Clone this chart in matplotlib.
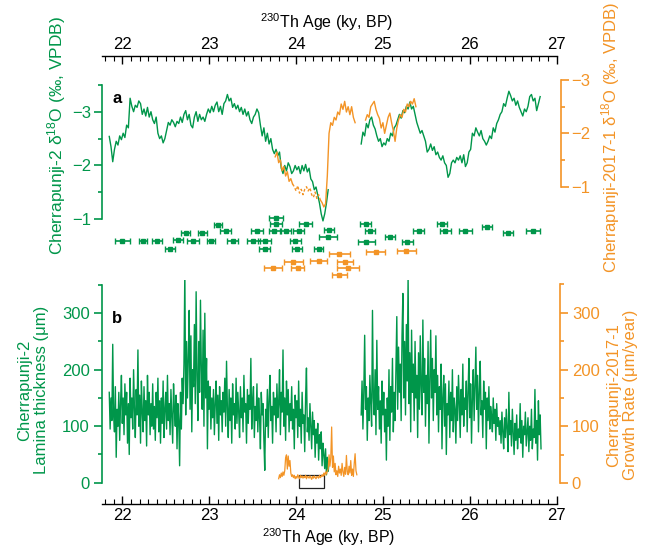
import numpy as np
import matplotlib
matplotlib.use('Agg')
import matplotlib.pyplot as plt
from matplotlib.patches import Rectangle
from matplotlib.ticker import MultipleLocator, FixedLocator

plt.rcParams['font.family'] = ['Liberation Sans', 'DejaVu Sans']
plt.rcParams['mathtext.fontset'] = 'custom'
plt.rcParams['mathtext.rm'] = 'Liberation Sans'
plt.rcParams['mathtext.it'] = 'Liberation Sans:italic'
plt.rcParams['mathtext.bf'] = 'Liberation Sans:bold'

GREEN = '#00964A'
ORANGE = '#F39426'

# ---------------- data ----------------
# Panel a: Cherrapunji-2 d18O (green), two segments
ga1_range = (21.85, 24.37)
ga1 = [-2.54, -2.35, -2.07, -2.3, -2.45, -2.38, -2.55, -2.48, -2.6, -2.52,
       -2.75, -2.7, -3.25, -3.1, -3.0, -3.12, -3.08, -3.2, -3.15, -2.95,
       -3.05, -2.92, -3.08, -2.9, -3.0, -2.85, -2.78, -2.9, -2.6, -2.5,
       -2.55, -2.42, -2.5, -2.65, -2.8, -2.75, -2.85, -2.8, -2.72, -2.82,
       -2.78, -2.9, -2.8, -2.95, -3.02, -2.85, -2.95, -2.75, -2.7, -2.9,
       -3.0, -2.82, -2.95, -2.85, -2.9, -2.82, -2.95, -3.05, -2.98, -3.1,
       -3.0, -3.12, -3.18, -3.0, -3.1, -2.95, -3.15, -3.2, -3.32, -3.2,
       -3.25, -3.08, -3.15, -3.05, -3.12, -3.0, -3.08, -2.95, -3.05, -2.92,
       -3.0, -2.85, -2.78, -2.9, -2.95, -3.05, -2.98, -2.75, -2.55, -2.7,
       -2.45, -2.6, -2.4, -2.5, -2.3, -2.22, -2.3, -2.18, -2.25, -1.95,
       -1.85, -2.0, -1.9, -2.05, -1.98, -1.85, -1.9, -2.0, -1.92, -1.98,
       -1.85, -2.0, -1.9, -2.02, -1.88, -1.95, -1.75, -1.7, -1.55, -1.6,
       -1.45, -1.3, -1.1, -0.97, -1.1, -1.3, -1.55]
ga2_range = (24.75, 26.81)
ga2 = [-2.4, -2.62, -2.55, -2.78, -2.7, -2.85, -2.9, -2.75, -2.68, -2.55,
       -2.45, -2.5, -2.35, -2.42, -2.38, -2.5, -2.45, -2.6, -2.55, -2.7,
       -2.75, -2.85, -2.95, -2.88, -3.02, -2.98, -3.1, -3.05, -3.18, -3.05,
       -3.1, -2.95, -2.8, -2.7, -2.6, -2.65, -2.55, -2.45, -2.25, -2.3,
       -2.4, -2.28, -2.35, -2.2, -2.25, -2.15, -2.1, -2.18, -2.05, -2.0,
       -1.78, -1.85, -2.05, -2.1, -2.05, -2.15, -2.1, -2.18, -2.05, -2.2,
       -1.98, -2.05, -2.25, -2.3, -2.6, -2.55, -2.7, -2.62, -2.55, -2.65,
       -2.5, -2.45, -2.38, -2.45, -2.55, -2.5, -2.7, -2.62, -2.78, -2.85,
       -2.95, -3.0, -3.15, -3.1, -3.25, -3.38, -3.3, -3.2, -3.25, -3.12,
       -3.2, -3.08, -3.0, -2.92, -3.05, -3.0, -3.1, -3.28, -3.32, -3.2,
       -3.25, -3.02, -3.15, -3.28]

# Panel a: Cherrapunji-2017-1 d18O (orange)
oa1_range = (23.76, 23.96)
oa1 = [-1.56, -1.65, -1.45, -1.5, -1.3, -1.38, -1.2, -1.28, -1.1, -1.15, -1.05]
oad_range = (23.96, 24.28)
oad = [-1.05, -1.0, -0.92, -1.02, -0.88, -0.95, -0.85, -0.95, -1.0, -0.92,
       -0.98, -0.85, -0.8, -0.9, -0.78, -0.85, -0.75]
oa2_range = (24.28, 24.68)
oa2 = [-0.75, -0.7, -0.62, -0.68, -1.2, -2.0, -2.2, -2.15, -2.3, -2.25,
       -2.4, -2.35, -2.55, -2.45, -2.6, -2.4, -2.5, -2.35, -2.5, -2.3, -2.2]
oa3_range = (24.80, 25.38)
oa3 = [-2.25, -2.35, -2.3, -2.5, -2.55, -2.6, -2.45, -2.35, -2.28, -2.1,
       -2.2, -2.0, -2.15, -2.3, -2.38, -2.2, -2.05, -1.85, -2.1, -2.25,
       -2.35, -2.3, -2.45, -2.4, -2.55, -2.5, -2.6, -2.55, -2.65, -2.5]

# 230Th dates (age, 2-sigma error) with display row
g_age = [23.77, 23.77, 24.11, 24.80, 25.68, 26.20, 23.10, 24.38, 23.19, 23.55,
         23.75, 23.88, 24.03, 24.85, 25.41, 25.72, 25.95, 26.73, 22.73, 22.92,
         26.44, 24.37, 25.08, 22.00, 22.24, 22.40, 22.81, 23.02, 23.27, 23.51,
         23.64, 23.99, 22.64, 24.81, 25.28, 22.55, 23.64, 24.01, 24.26]
g_err = [0.077, 0.073, 0.071, 0.058, 0.063, 0.059, 0.048, 0.054, 0.061, 0.069,
         0.065, 0.058, 0.065, 0.058, 0.063, 0.063, 0.071, 0.084, 0.052, 0.054,
         0.063, 0.10, 0.058, 0.088, 0.050, 0.060, 0.069, 0.048, 0.061, 0.075,
         0.073, 0.065, 0.054, 0.094, 0.065, 0.054, 0.061, 0.060, 0.056]
g_row = [7.7, 14, 14, 14, 14, 17.3, 15, 19.7, 21, 21,
         21, 21, 21, 21, 21, 21, 21, 21, 22.7, 22.7,
         22.7, 26.7, 26.7, 30.7, 30.7, 30.7, 30.7, 30.7, 30.7, 30.7,
         30.7, 30.7, 29.7, 32.3, 32.3, 39.3, 39.3, 39.3, 39.3]
o_age = [24.50, 24.92, 25.27, 23.97, 24.26, 24.56, 23.73, 24.02, 24.60, 24.50]
o_err = [0.119, 0.109, 0.109, 0.109, 0.10, 0.09, 0.104, 0.075, 0.125, 0.081]
o_row = [43.7, 41.7, 41.3, 52, 51, 52.3, 58.3, 58, 58.3, 65]

# Panel b: Cherrapunji-2 lamina thickness (um)
gb1_range = (21.85, 24.38)
gb1 = [160, 95, 150, 110, 245, 120, 90, 170, 45, 130,
       100, 160, 75, 140, 190, 105, 150, 85, 175, 120,
       160, 70, 140, 50, 185, 115, 150, 95, 200, 130,
       80, 165, 120, 235, 100, 155, 70, 180, 125, 90,
       170, 110, 145, 65, 190, 120, 160, 85, 140, 100,
       175, 95, 135, 75, 160, 115, 185, 90, 145, 70,
       150, 105, 180, 80, 130, 160, 95, 190, 110, 140,
       85, 165, 120, 70, 175, 130, 100, 155, 60, 140,
       110, 30, 160, 95, 185, 140, 210, 375, 120, 250,
       150, 220, 305, 130, 260, 90, 200, 170, 280, 140,
       338, 190, 110, 250, 160, 323, 200, 130, 270, 100,
       300, 150, 220, 60, 180, 130, 170, 95, 150, 115,
       165, 85, 140, 180, 105, 155, 75, 170, 120, 145,
       90, 160, 125, 185, 100, 215, 130, 80, 165, 110,
       150, 70, 175, 120, 140, 95, 185, 105, 160, 125,
       80, 170, 115, 150, 90, 190, 125, 140, 70, 165,
       105, 155, 130, 220, 95, 145, 170, 80, 135, 110,
       175, 90, 150, 115, 60, 160, 120, 140, 75, 22,
       130, 100, 165, 80, 145, 190, 110, 135, 70, 160,
       120, 150, 90, 175, 115, 140, 200, 85, 160, 125,
       235, 100, 150, 75, 180, 120, 165, 90, 140, 110,
       170, 95, 130, 60, 155, 115, 145, 80, 180, 100,
       130, 70, 160, 105, 120, 55, 150, 203, 90, 115,
       75, 140, 100, 60, 125, 85, 110, 45, 95, 70,
       105, 40, 85, 60, 90, 30, 70, 50, 25, 60,
       14, 45, 20, 35]
gb2_range = (24.75, 26.82)
gb2 = [120, 180, 95, 160, 261, 130, 170, 75, 150, 110,
       190, 140, 100, 305, 150, 120, 200, 85, 252, 130,
       170, 95, 145, 70, 180, 120, 160, 90, 130, 40,
       150, 100, 200, 75, 170, 125, 220, 90, 160, 110,
       200, 294, 130, 240, 160, 210, 110, 260, 335, 150,
       250, 120, 280, 180, 368, 140, 230, 90, 270, 160,
       210, 110, 250, 150, 190, 80, 230, 130, 260, 170,
       120, 288, 160, 220, 100, 190, 140, 250, 70, 180,
       270, 150, 220, 110, 200, 160, 260, 120, 190, 90,
       170, 130, 210, 60, 150, 190, 100, 175, 50, 140,
       120, 180, 80, 160, 110, 200, 90, 150, 130, 70,
       170, 110, 190, 140, 80, 165, 120, 210, 100, 150,
       130, 180, 90, 160, 220, 115, 175, 70, 150, 200,
       110, 170, 240, 130, 190, 90, 160, 215, 120, 145,
       80, 180, 130, 160, 60, 150, 110, 170, 95, 135,
       120, 90, 150, 105, 130, 75, 140, 100, 115, 85,
       110, 70, 125, 90, 60, 115, 80, 130, 95, 55,
       160, 85, 110, 65, 130, 90, 50, 105, 75, 120,
       60, 95, 80, 140, 70, 110, 45, 100, 85, 125,
       65, 90, 115, 55, 100, 75, 130, 60, 95, 80,
       165, 70, 110, 40, 145, 85, 120, 60]

# Panel b: Cherrapunji-2017-1 growth rate (um/year)
ob_range = (23.80, 24.70)
ob = [8, 15, 10, 18, 12, 20, 14, 22, 45, 50,
      25, 48, 30, 40, 18, 12, 15, 10, 14, 8,
      12, 9, 15, 11, 8, 14, 10, 13, 9, 12,
      10, 14, 8, 12, 11, 9, 13, 10, 7, 12,
      9, 13, 10, 8, 12, 11, 9, 14, 10, 12,
      15, 12, 18, 14, 20, 16, 22, 25, 50, 30,
      45, 99, 28, 48, 20, 35, 15, 22, 12, 30,
      18, 25, 14, 35, 20, 12, 28, 16, 49, 20,
      15, 30, 18, 40, 14, 25, 12, 35, 52, 22,
      15]

# highlighted interval (age range, value range) in panel b
box_age = (24.03, 24.32)
box_val = (-9, 15)

x_ticks = [22, 23, 24, 25, 26, 27]


def ages(rng, vals):
    return np.linspace(rng[0], rng[1], len(vals))


# ---------------- layout ----------------
W, H = 651, 548
fig = plt.figure(figsize=(W / 100, H / 100), dpi=100)


def box(x0, y0, x1, y1):
    return [x0 / W, 1 - y1 / H, (x1 - x0) / W, (y1 - y0) / H]


XL = (21.763, 27.004)
XL_PX = (101.7, 557)

# Background axes holding the bottom and top age axes
ax0 = fig.add_axes(box(XL_PX[0], 56, XL_PX[1], 504))
ax0.set_facecolor('none')
ax0.set_xlim(*XL)
ax0.set_ylim(0, 1)
for s in ['left', 'right']:
    ax0.spines[s].set_visible(False)
for s in ['top', 'bottom']:
    ax0.spines[s].set_linewidth(1.0)
ax0.set_yticks([])
ax0.xaxis.set_major_locator(FixedLocator(x_ticks))
ax0.xaxis.set_minor_locator(MultipleLocator(0.1))
ax0.tick_params(axis='x', which='both', direction='in', top=True, bottom=True,
                labeltop=True, labelbottom=True)
ax0.tick_params(axis='x', which='major', length=5.5, width=1.0, labelsize=12, pad=3)
ax0.tick_params(axis='x', which='minor', length=3.5, width=0.8)
ax0.tick_params(axis='x', which='major', labeltop=True)
for lab in ax0.xaxis.get_ticklabels(which='major'):
    pass
ax0.xaxis.set_tick_params(which='major', pad=3)
fig.text(327 / W, 1 - 22 / H, r'$^{230}$Th Age (ky, BP)', ha='center', va='center', fontsize=11.5)
fig.text(329 / W, 1 - 537 / H, r'$^{230}$Th Age (ky, BP)', ha='center', va='center', fontsize=11.5)

# ---- panel a ----
axa = fig.add_axes(box(XL_PX[0], 75, XL_PX[1], 230))
axa.set_facecolor('none')
axa.set_xlim(*XL)
axa.set_ylim(-0.801, -3.682)
for s in ['top', 'bottom', 'right']:
    axa.spines[s].set_visible(False)
axa.spines['left'].set_bounds(-3.5, -1)
axa.spines['left'].set_color(GREEN)
axa.spines['left'].set_linewidth(1.2)
axa.set_xticks([])
axa.yaxis.set_major_locator(FixedLocator([-3, -2, -1]))
axa.yaxis.set_minor_locator(FixedLocator([-3.5, -2.5, -1.5]))
axa.tick_params(axis='y', which='major', colors=GREEN, length=5.5, width=1.2, labelsize=12, pad=2)
axa.tick_params(axis='y', which='minor', colors=GREEN, length=3, width=1.2)
axa.plot(ages(ga1_range, ga1), ga1, color=GREEN, lw=1.0)
axa.plot(ages(ga2_range, ga2), ga2, color=GREEN, lw=1.0)
axa.text(21.94, -3.25, 'a', fontsize=12, fontweight='bold', ha='center', va='center')

axa2 = axa.twinx()
axa2.set_facecolor('none')
axa2.set_ylim(-0.188, -3.094)
for s in ['top', 'bottom', 'left']:
    axa2.spines[s].set_visible(False)
axa2.spines['right'].set_bounds(-3, -1)
axa2.spines['right'].set_position(('outward', 2.7))
axa2.spines['right'].set_color(ORANGE)
axa2.spines['right'].set_linewidth(1.2)
axa2.yaxis.set_major_locator(FixedLocator([-3, -2, -1]))
axa2.yaxis.set_minor_locator(FixedLocator([-2.5, -1.5]))
axa2.tick_params(axis='y', which='major', colors=ORANGE, length=5.5, width=1.2, labelsize=12, pad=2)
axa2.tick_params(axis='y', which='minor', colors=ORANGE, length=3, width=1.2)
axa2.plot(ages(oa1_range, oa1), oa1, color=ORANGE, lw=1.0)
axa2.plot(ages(oad_range, oad), oad, color=ORANGE, lw=1.0, ls=(0, (2, 1.5)))
axa2.plot(ages(oa2_range, oa2), oa2, color=ORANGE, lw=1.0)
axa2.plot(ages(oa3_range, oa3), oa3, color=ORANGE, lw=1.0)

fig.text(57 / W, 1 - 135 / H, r'Cherrapunji-2 δ$^{18}$O (‰, VPDB)', rotation=90,
         ha='center', va='center', color=GREEN, fontsize=12.5)
fig.text(611 / W, 1 - 137 / H, r'Cherrapunji-2017-1 δ$^{18}$O (‰, VPDB)', rotation=90,
         ha='center', va='center', color=ORANGE, fontsize=12)

# ---- dates ----
axe = fig.add_axes(box(XL_PX[0], 210, XL_PX[1], 280))
axe.set_facecolor('none')
axe.set_xlim(*XL)
axe.set_ylim(70, 0)
axe.axis('off')
axe.errorbar(g_age, g_row, xerr=g_err, fmt='s', ms=2.2, color=GREEN, ecolor=GREEN,
             elinewidth=1.2, capsize=2.2, capthick=1.0)
axe.errorbar(o_age, o_row, xerr=o_err, fmt='s', ms=2.2, color=ORANGE, ecolor=ORANGE,
             elinewidth=1.2, capsize=2.2, capthick=1.0)

# ---- panel b ----
axb = fig.add_axes(box(XL_PX[0], 280, XL_PX[1], 490))
axb.set_facecolor('none')
axb.set_xlim(*XL)
axb.set_ylim(-12.9, 358.8)
for s in ['top', 'bottom', 'right']:
    axb.spines[s].set_visible(False)
axb.spines['left'].set_bounds(0, 350)
axb.spines['left'].set_color(GREEN)
axb.spines['left'].set_linewidth(1.2)
axb.set_xticks([])
axb.yaxis.set_major_locator(FixedLocator([0, 100, 200, 300]))
axb.yaxis.set_minor_locator(FixedLocator([50, 150, 250, 350]))
axb.tick_params(axis='y', which='major', colors=GREEN, length=5.5, width=1.2, labelsize=12, pad=3)
axb.tick_params(axis='y', which='minor', colors=GREEN, length=3, width=1.2)
axb.plot(ages(gb1_range, gb1), gb1, color=GREEN, lw=1.0)
axb.plot(ages(gb2_range, gb2), gb2, color=GREEN, lw=1.0)
axb.text(21.94, 290, 'b', fontsize=12, fontweight='bold', ha='center', va='center')

axb2 = axb.twinx()
axb2.set_facecolor('none')
axb2.set_ylim(-11.8, 357.5)
for s in ['top', 'bottom', 'left']:
    axb2.spines[s].set_visible(False)
axb2.spines['right'].set_bounds(0, 350)
axb2.spines['right'].set_position(('outward', 2.2))
axb2.spines['right'].set_color(ORANGE)
axb2.spines['right'].set_linewidth(1.2)
axb2.yaxis.set_major_locator(FixedLocator([0, 100, 200, 300]))
axb2.yaxis.set_minor_locator(FixedLocator([50, 150, 250, 350]))
axb2.tick_params(axis='y', which='major', colors=ORANGE, length=5.5, width=1.2, labelsize=12, pad=3)
axb2.tick_params(axis='y', which='minor', colors=ORANGE, length=3, width=1.2)
axb2.plot(ages(ob_range, ob), ob, color=ORANGE, lw=0.9)
axb2.add_patch(Rectangle((box_age[0], box_val[0]), box_age[1] - box_age[0],
                         box_val[1] - box_val[0], fill=False, edgecolor='#222222',
                         lw=0.9, clip_on=False))

fig.text(33 / W, 1 - 390 / H, 'Cherrapunji-2\nLamina thickness (μm)', rotation=90,
         ha='center', va='center', color=GREEN, fontsize=12, multialignment='center',
         linespacing=1.15)
fig.text(622 / W, 1 - 395 / H, 'Cherrapunji-2017-1\nGrowth Rate (μm/year)', rotation=90,
         ha='center', va='center', color=ORANGE, fontsize=12, multialignment='center',
         linespacing=1.15)

fig.savefig('out.png', dpi=100)
